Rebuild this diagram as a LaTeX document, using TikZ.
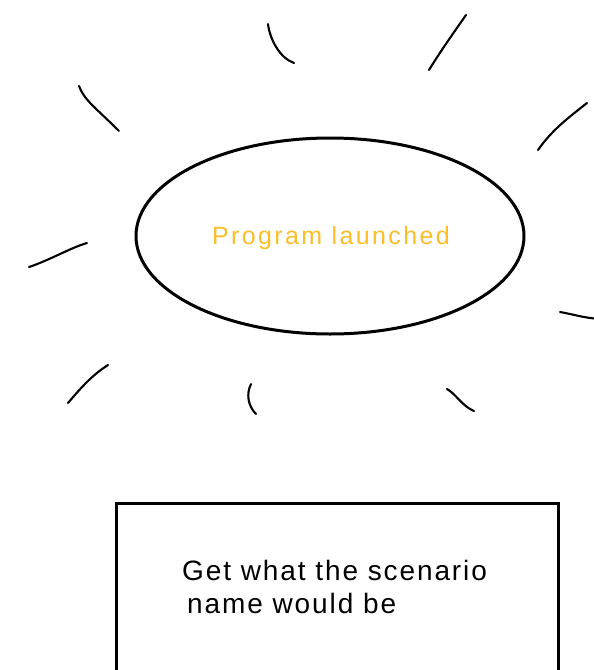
\documentclass[tikz,border=0pt]{standalone}
\usepackage{fontspec}
\setmainfont{Liberation Sans}
\usetikzlibrary{shapes.geometric}
\definecolor{sunyellow}{RGB}{249,190,42}
\tikzset{
  ray/.style={line width=2.1pt, line cap=round, black},
  bubble/.style={ellipse, draw, line width=3pt, minimum width=388pt, minimum height=196pt, inner sep=0pt},
  stepbox/.style={rectangle, draw, line width=2.8pt, minimum width=442pt, minimum height=240pt, inner sep=0pt},
}
\begin{document}
\begin{tikzpicture}[x=1pt,y=-1pt]
\useasboundingbox (0,0) rectangle (594,670);
\fill[white] (0,0) rectangle (594,670);
% rays
\coordinate (a1) at (79,86);  \coordinate (a2) at (119,131);
\coordinate (b1) at (268,24); \coordinate (b2) at (294,63);
\coordinate (c1) at (466,15); \coordinate (c2) at (429,70);
\coordinate (d1) at (587,103); \coordinate (d2) at (538,150);
\coordinate (e1) at (87,243); \coordinate (e2) at (29,267);
\coordinate (f1) at (108,365); \coordinate (f2) at (68,403);
\coordinate (g1) at (251,384); \coordinate (g2) at (256,414);
\coordinate (h1) at (447,389); \coordinate (h2) at (474,411);
\coordinate (i1) at (560,312); \coordinate (i2) at (600,319);
\draw[ray] (a1) .. controls (84,100) and (96,108) .. (a2);
\draw[ray] (b1) .. controls (270,40) and (280,58) .. (b2);
\draw[ray] (c1) .. controls (452,35) and (440,52) .. (c2);
\draw[ray] (d1) .. controls (568,118) and (552,130) .. (d2);
\draw[ray] (e1) .. controls (70,248) and (50,260) .. (e2);
\draw[ray] (f1) .. controls (94,374) and (84,384) .. (f2);
\draw[ray] (g1) .. controls (246,394) and (248,406) .. (g2);
\draw[ray] (h1) .. controls (456,394) and (462,406) .. (h2);
\draw[ray] (i1) .. controls (572,314) and (584,318) .. (i2);
% ellipse
\node[bubble] (launch) at (330,236) {};
\node[text=sunyellow, font=\fontsize{25}{30}\selectfont\addfontfeature{LetterSpace=9.6}] (launchtext) at (331,238) {Program launched};
% box
\node[stepbox, anchor=north west] (scenario) at (115,502) {};
\node[align=left, anchor=north west, font=\fontsize{28}{33}\selectfont\addfontfeature{LetterSpace=6.8}, inner sep=0pt] (scenariotext) at (182,560) {Get what the scenario\\\hspace{5pt}name would be};
\end{tikzpicture}
\end{document}
